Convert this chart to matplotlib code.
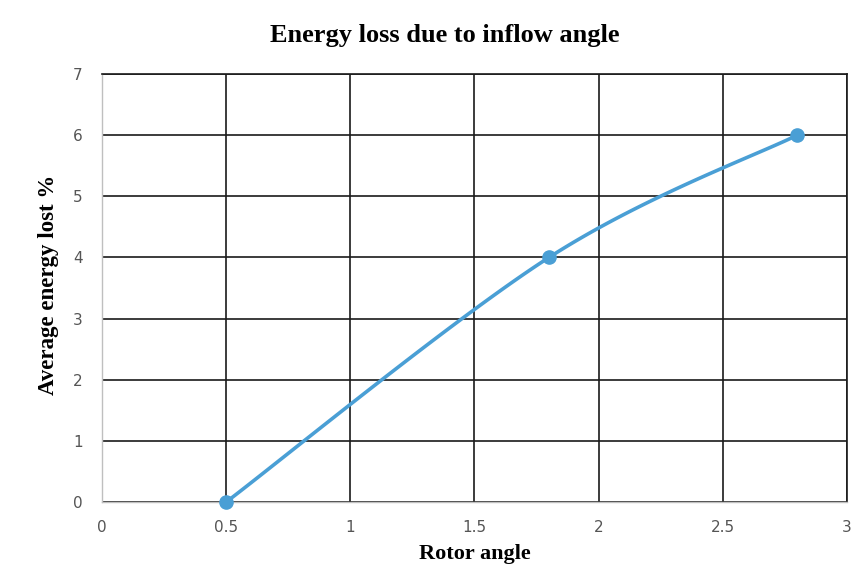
import numpy as np
import matplotlib
matplotlib.use("Agg")
import matplotlib.pyplot as plt

rotor_angle = [0.5, 1.8, 2.8]
energy_lost = [0.0, 4.0, 6.0]
x_ticks = [0, 0.5, 1, 1.5, 2, 2.5, 3]
y_ticks = [0, 1, 2, 3, 4, 5, 6, 7]

def smooth(xs, ys, n=60):
    P = np.column_stack([xs, ys]).astype(float)
    Pext = np.vstack([P[0], P, P[-1]])
    out = []
    for i in range(1, len(Pext) - 2):
        p0, p1, p2, p3 = Pext[i - 1], Pext[i], Pext[i + 1], Pext[i + 2]
        b1 = p1 + (p2 - p0) / 6
        b2 = p2 - (p3 - p1) / 6
        t = np.linspace(0, 1, n)[:, None]
        seg = ((1 - t) ** 3) * p1 + 3 * ((1 - t) ** 2) * t * b1 + 3 * (1 - t) * t ** 2 * b2 + t ** 3 * p2
        out.append(seg)
    c = np.vstack(out)
    return c[:, 0], c[:, 1]

fig = plt.figure(figsize=(8.66, 5.86), dpi=100)
ax = fig.add_axes([0.1178, 0.1433, 0.8602, 0.7304])

ax.set_xlim(0, 3)
ax.set_ylim(0, 7)
ax.set_xticks(x_ticks)
ax.set_xticklabels(["0", "0.5", "1", "1.5", "2", "2.5", "3"])
ax.set_yticks(y_ticks)
ax.grid(True, color="#1a1a1a", linewidth=1.2)
ax.set_axisbelow(True)
for s in ["left", "bottom"]:
    ax.spines[s].set_color("#bfbfbf")
    ax.spines[s].set_linewidth(1.0)
for s in ["top", "right"]:
    ax.spines[s].set_color("#1a1a1a")
    ax.spines[s].set_linewidth(1.2)
ax.tick_params(length=0, labelsize=11, labelcolor="#555555")
ax.tick_params(axis="x", pad=13)
ax.tick_params(axis="y", pad=14)
for lab in ax.get_xticklabels() + ax.get_yticklabels():
    lab.set_family("DejaVu Sans")

sx, sy = smooth(rotor_angle, energy_lost)
ax.plot(sx, sy, color="#4a9fd5", linewidth=2.6, solid_capstyle="round", clip_on=False, zorder=3)
ax.plot(rotor_angle, energy_lost, "o", color="#4a9fd5", markersize=9.5, clip_on=False, zorder=4)

fig.text(0.513, 0.940, "Energy loss due to inflow angle", ha="center", va="center",
         fontsize=19, fontweight="bold", family="Liberation Serif")
fig.text(0.548, 0.055, "Rotor angle", ha="center", va="center",
         fontsize=16, fontweight="bold", family="Liberation Serif")
fig.text(0.056, 0.514, "Average energy lost %", ha="center", va="center", rotation=90,
         fontsize=16.5, fontweight="bold", family="Liberation Serif")

fig.savefig("out.png", dpi=100)
